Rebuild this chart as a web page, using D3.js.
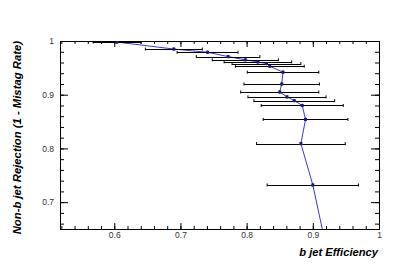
<!DOCTYPE html>
<html>
<head>
<meta charset="utf-8">
<script src="https://cdn.jsdelivr.net/npm/d3@7"></script>
<style>
  body { margin: 0; background: #fff; }
  text { font-family: "Liberation Sans", Arial, sans-serif; }
  .domain { display: none; }
</style>
</head>
<body>
<div id="chart"></div>
<script>
// b-tagging performance: efficiency vs rejection
const efficiency = [0.604, 0.690, 0.741, 0.772, 0.798, 0.817, 0.830, 0.835, 0.855, 0.853, 0.850, 0.861, 0.872, 0.884, 0.889, 0.882, 0.900, 0.923];
const rejection  = [0.998, 0.985, 0.979, 0.971, 0.965, 0.961, 0.958, 0.953, 0.942, 0.920, 0.905, 0.896, 0.889, 0.880, 0.854, 0.809, 0.732, 0.600];
const effError   = [0.036, 0.043, 0.046, 0.048, 0.050, 0.051, 0.052, 0.052, 0.054, 0.057, 0.059, 0.059, 0.061, 0.062, 0.064, 0.067, 0.069, 0.071];
const rejError   = [0.003, 0.003, 0.003, 0.003, 0.003, 0.003, 0.003, 0.003, 0.003, 0.003, 0.003, 0.003, 0.003, 0.003, 0.003, 0.003, 0.003, 0.003];

const xMajor = [0.6, 0.7, 0.8, 0.9, 1];
const yMajor = [0.7, 0.8, 0.9, 1];

const width  = 399;
const height = 270;
const margin = {top: 41, right: 20, bottom: 41, left: 60};
const innerW = width - margin.left - margin.right;
const innerH = height - margin.top - margin.bottom;

const data = efficiency.map((e, i) => ({x: e, y: rejection[i], ex: effError[i], ey: rejError[i]}));

const x = d3.scaleLinear().domain([0.518, 1.0]).range([0, innerW]);
const y = d3.scaleLinear().domain([0.65, 1.0]).range([innerH, 0]);

const xMinor = d3.range(0.52, 1.0001, 0.02);
const yMinor = d3.range(0.66, 1.0001, 0.02);

const svg = d3.select("#chart")
    .append("svg")
    .attr("width", width)
    .attr("height", height);

const g = svg.append("g")
    .attr("transform", `translate(${margin.left}, ${margin.top})`);

svg.append("defs").append("clipPath")
    .attr("id", "plotClip")
  .append("rect")
    .attr("width", innerW)
    .attr("height", innerH);

// axes: ticks point inside the frame, like ROOT
const fmt = d => d === 1 ? "1" : d3.format(".1f")(d);

function styleAxis(sel) {
    sel.selectAll("line").attr("stroke", "#000");
    sel.selectAll("text").attr("fill", "#333").attr("font-size", 8.5);
}

g.append("g").attr("transform", `translate(0, ${innerH})`)
    .call(d3.axisBottom(x).tickValues(xMinor).tickSize(-3).tickFormat(""))
    .call(styleAxis);
g.append("g").attr("transform", `translate(0, ${innerH})`)
    .call(d3.axisBottom(x).tickValues(xMajor).tickSize(-6).tickPadding(3).tickFormat(fmt))
    .call(styleAxis);

g.append("g")
    .call(d3.axisTop(x).tickValues(xMinor).tickSize(-3).tickFormat(""))
    .call(styleAxis);
g.append("g")
    .call(d3.axisTop(x).tickValues(xMajor).tickSize(-6).tickFormat(""))
    .call(styleAxis);

g.append("g")
    .call(d3.axisLeft(y).tickValues(yMinor).tickSize(-4).tickFormat(""))
    .call(styleAxis);
g.append("g")
    .call(d3.axisLeft(y).tickValues(yMajor).tickSize(-8).tickPadding(6).tickFormat(fmt))
    .call(styleAxis);

g.append("g").attr("transform", `translate(${innerW}, 0)`)
    .call(d3.axisRight(y).tickValues(yMinor).tickSize(-4).tickFormat(""))
    .call(styleAxis);
g.append("g").attr("transform", `translate(${innerW}, 0)`)
    .call(d3.axisRight(y).tickValues(yMajor).tickSize(-8).tickFormat(""))
    .call(styleAxis);

g.append("rect")
    .attr("x", 0.5)
    .attr("y", 0.5)
    .attr("width", innerW)
    .attr("height", innerH)
    .attr("fill", "none")
    .attr("stroke", "#000")
    .attr("stroke-width", 1);

// data
const plot = g.append("g").attr("clip-path", "url(#plotClip)");

const line = d3.line().x(d => x(d.x)).y(d => y(d.y));

plot.append("path")
    .datum(data)
    .attr("d", line)
    .attr("fill", "none")
    .attr("stroke", "#3a3ad0")
    .attr("stroke-width", 1);

const bars = plot.selectAll(".err")
    .data(data)
    .join("g")
    .attr("class", "err");

bars.append("line")
    .attr("x1", d => x(d.x - d.ex))
    .attr("x2", d => x(d.x + d.ex))
    .attr("y1", d => Math.round(y(d.y)) + 0.5)
    .attr("y2", d => Math.round(y(d.y)) + 0.5)
    .attr("stroke", "#000");

bars.append("line")
    .attr("x1", d => x(d.x - d.ex))
    .attr("x2", d => x(d.x - d.ex))
    .attr("y1", d => y(d.y) - 1.5)
    .attr("y2", d => y(d.y) + 1.5)
    .attr("stroke", "#000");

bars.append("line")
    .attr("x1", d => x(d.x + d.ex))
    .attr("x2", d => x(d.x + d.ex))
    .attr("y1", d => y(d.y) - 1.5)
    .attr("y2", d => y(d.y) + 1.5)
    .attr("stroke", "#000");

bars.append("line")
    .attr("x1", d => x(d.x))
    .attr("x2", d => x(d.x))
    .attr("y1", d => y(d.y + d.ey))
    .attr("y2", d => y(d.y - d.ey))
    .attr("stroke", "#000");

plot.selectAll(".pt")
    .data(data)
    .join("rect")
    .attr("class", "pt")
    .attr("x", d => x(d.x) - 1.5)
    .attr("y", d => y(d.y) - 1.5)
    .attr("width", 3)
    .attr("height", 3)
    .attr("fill", "#1a1a80");

// titles
svg.append("text")
    .text("b jet Efficiency")
    .attr("x", margin.left + innerW - 1)
    .attr("y", 256)
    .attr("text-anchor", "end")
    .attr("font-size", 11.2)
    .attr("font-weight", "bold")
    .attr("font-style", "italic")
    .attr("fill", "#000");

svg.append("text")
    .text("Non-b jet Rejection (1 - Mistag Rate)")
    .attr("transform", `translate(21, ${margin.top}) rotate(-90)`)
    .attr("text-anchor", "end")
    .attr("font-size", 11.3)
    .attr("font-weight", "bold")
    .attr("font-style", "italic")
    .attr("fill", "#000");
</script>
</body>
</html>
